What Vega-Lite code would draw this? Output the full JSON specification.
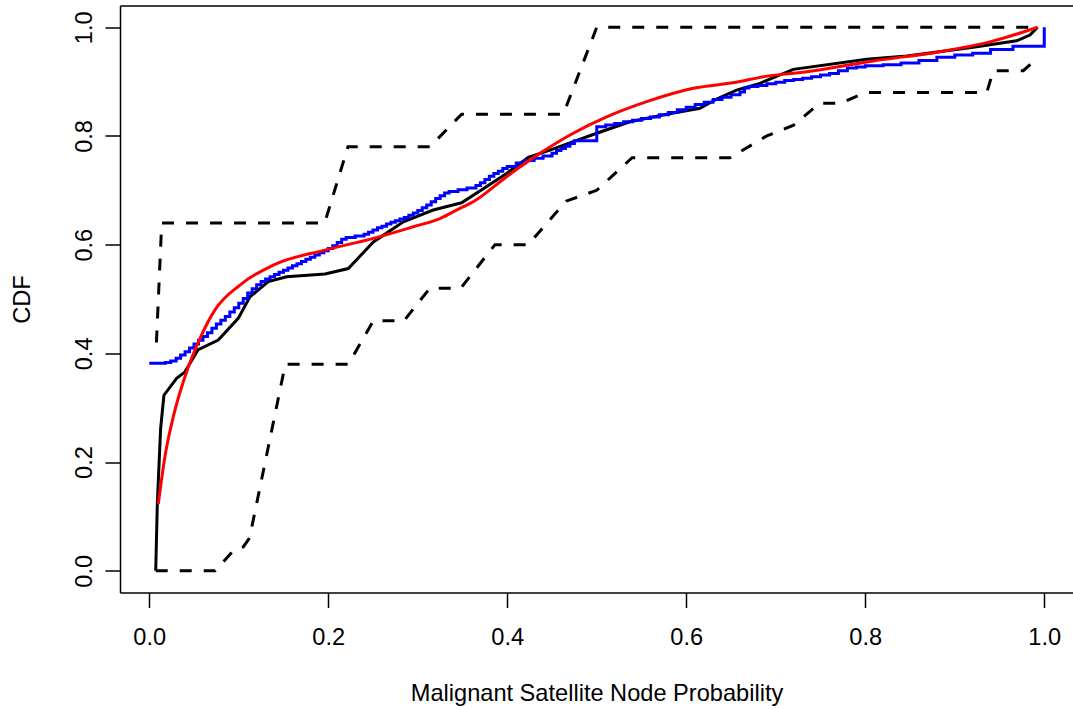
{
  "$schema": "https://vega.github.io/schema/vega-lite/v6.json",
  "autosize": {"type": "none"},
  "padding": {"left": 120, "top": 5.5, "right": 0, "bottom": 116.5},
  "width": 953,
  "height": 587,
  "background": "white",
  "config": {
    "view": {"stroke": null},
    "axis": {"grid": false, "labelFont": "Liberation Sans", "titleFont": "Liberation Sans", "labelColor": "black", "titleColor": "black", "domainColor": "black", "tickColor": "black", "domainWidth": 1.5, "tickWidth": 1.5}
  },
  "datasets": {
    "bands": [
      {"x": 0.008, "y": 0.42, "bound": "upper"},
      {"x": 0.0139, "y": 0.64, "bound": "upper"},
      {"x": 0.196, "y": 0.64, "bound": "upper"},
      {"x": 0.222, "y": 0.78, "bound": "upper"},
      {"x": 0.3136, "y": 0.78, "bound": "upper"},
      {"x": 0.349, "y": 0.84, "bound": "upper"},
      {"x": 0.4626, "y": 0.84, "bound": "upper"},
      {"x": 0.5, "y": 1.0, "bound": "upper"},
      {"x": 0.992, "y": 1.0, "bound": "upper"},
      {"x": 0.0072, "y": 0.0, "bound": "lower"},
      {"x": 0.0735, "y": 0.0, "bound": "lower"},
      {"x": 0.0957, "y": 0.04, "bound": "lower"},
      {"x": 0.105, "y": 0.044, "bound": "lower"},
      {"x": 0.112, "y": 0.06, "bound": "lower"},
      {"x": 0.152, "y": 0.38, "bound": "lower"},
      {"x": 0.2225, "y": 0.38, "bound": "lower"},
      {"x": 0.2504, "y": 0.46, "bound": "lower"},
      {"x": 0.2846, "y": 0.46, "bound": "lower"},
      {"x": 0.3136, "y": 0.52, "bound": "lower"},
      {"x": 0.348, "y": 0.52, "bound": "lower"},
      {"x": 0.3863, "y": 0.6, "bound": "lower"},
      {"x": 0.4235, "y": 0.6, "bound": "lower"},
      {"x": 0.4656, "y": 0.68, "bound": "lower"},
      {"x": 0.4999, "y": 0.7, "bound": "lower"},
      {"x": 0.5395, "y": 0.76, "bound": "lower"},
      {"x": 0.6489, "y": 0.76, "bound": "lower"},
      {"x": 0.69, "y": 0.8, "bound": "lower"},
      {"x": 0.72, "y": 0.82, "bound": "lower"},
      {"x": 0.749, "y": 0.86, "bound": "lower"},
      {"x": 0.772, "y": 0.86, "bound": "lower"},
      {"x": 0.8, "y": 0.88, "bound": "lower"},
      {"x": 0.9358, "y": 0.88, "bound": "lower"},
      {"x": 0.943, "y": 0.92, "bound": "lower"},
      {"x": 0.9766, "y": 0.92, "bound": "lower"},
      {"x": 0.99, "y": 0.94, "bound": "lower"}
    ],
    "black": [
      {"x": 0.0072, "y": 0.0}, {"x": 0.009, "y": 0.124}, {"x": 0.0127, "y": 0.262}, {"x": 0.0164, "y": 0.323},
      {"x": 0.0306, "y": 0.354}, {"x": 0.0399, "y": 0.366}, {"x": 0.0547, "y": 0.407}, {"x": 0.0771, "y": 0.4245},
      {"x": 0.0994, "y": 0.4644}, {"x": 0.1125, "y": 0.504}, {"x": 0.133, "y": 0.532}, {"x": 0.1535, "y": 0.541},
      {"x": 0.1963, "y": 0.546}, {"x": 0.2224, "y": 0.556}, {"x": 0.2504, "y": 0.605}, {"x": 0.2839, "y": 0.642},
      {"x": 0.3173, "y": 0.6637}, {"x": 0.349, "y": 0.677}, {"x": 0.3993, "y": 0.731}, {"x": 0.4235, "y": 0.7606},
      {"x": 0.4477, "y": 0.774}, {"x": 0.4999, "y": 0.805}, {"x": 0.537, "y": 0.826}, {"x": 0.578, "y": 0.84},
      {"x": 0.6153, "y": 0.851}, {"x": 0.634, "y": 0.868}, {"x": 0.6563, "y": 0.8844}, {"x": 0.6823, "y": 0.8968},
      {"x": 0.7196, "y": 0.9225}, {"x": 0.8016, "y": 0.941}, {"x": 0.8463, "y": 0.947}, {"x": 0.9207, "y": 0.963},
      {"x": 0.9691, "y": 0.975}, {"x": 0.984, "y": 0.9857}, {"x": 0.9926, "y": 1.0}
    ],
    "blue": [
      {"x": 0.0, "y": 0.382}, {"x": 0.018, "y": 0.383}, {"x": 0.024, "y": 0.386}, {"x": 0.03, "y": 0.391},
      {"x": 0.035, "y": 0.397}, {"x": 0.04, "y": 0.403}, {"x": 0.045, "y": 0.41}, {"x": 0.05, "y": 0.417},
      {"x": 0.055, "y": 0.424}, {"x": 0.06, "y": 0.431}, {"x": 0.065, "y": 0.438}, {"x": 0.07, "y": 0.446},
      {"x": 0.075, "y": 0.454}, {"x": 0.08, "y": 0.461}, {"x": 0.085, "y": 0.468}, {"x": 0.09, "y": 0.476},
      {"x": 0.095, "y": 0.484}, {"x": 0.1, "y": 0.492}, {"x": 0.105, "y": 0.501}, {"x": 0.11, "y": 0.511},
      {"x": 0.115, "y": 0.519}, {"x": 0.12, "y": 0.526}, {"x": 0.125, "y": 0.532}, {"x": 0.13, "y": 0.537},
      {"x": 0.135, "y": 0.541}, {"x": 0.14, "y": 0.545}, {"x": 0.145, "y": 0.549}, {"x": 0.15, "y": 0.553},
      {"x": 0.155, "y": 0.557}, {"x": 0.16, "y": 0.561}, {"x": 0.165, "y": 0.565}, {"x": 0.17, "y": 0.569},
      {"x": 0.175, "y": 0.573}, {"x": 0.18, "y": 0.577}, {"x": 0.185, "y": 0.581}, {"x": 0.19, "y": 0.585},
      {"x": 0.195, "y": 0.589}, {"x": 0.2, "y": 0.593}, {"x": 0.205, "y": 0.598}, {"x": 0.21, "y": 0.604},
      {"x": 0.215, "y": 0.61}, {"x": 0.22, "y": 0.613}, {"x": 0.23, "y": 0.616}, {"x": 0.24, "y": 0.619},
      {"x": 0.245, "y": 0.623}, {"x": 0.25, "y": 0.627}, {"x": 0.255, "y": 0.631}, {"x": 0.26, "y": 0.634},
      {"x": 0.265, "y": 0.638}, {"x": 0.27, "y": 0.641}, {"x": 0.275, "y": 0.644}, {"x": 0.28, "y": 0.647},
      {"x": 0.285, "y": 0.65}, {"x": 0.29, "y": 0.654}, {"x": 0.295, "y": 0.658}, {"x": 0.3, "y": 0.663},
      {"x": 0.305, "y": 0.668}, {"x": 0.31, "y": 0.673}, {"x": 0.315, "y": 0.679}, {"x": 0.32, "y": 0.685},
      {"x": 0.325, "y": 0.69}, {"x": 0.33, "y": 0.695}, {"x": 0.335, "y": 0.698}, {"x": 0.345, "y": 0.701},
      {"x": 0.355, "y": 0.704}, {"x": 0.365, "y": 0.709}, {"x": 0.37, "y": 0.714}, {"x": 0.375, "y": 0.72},
      {"x": 0.38, "y": 0.726}, {"x": 0.385, "y": 0.731}, {"x": 0.39, "y": 0.735}, {"x": 0.395, "y": 0.74},
      {"x": 0.4, "y": 0.744}, {"x": 0.41, "y": 0.75}, {"x": 0.42, "y": 0.755}, {"x": 0.43, "y": 0.759},
      {"x": 0.44, "y": 0.763}, {"x": 0.45, "y": 0.768}, {"x": 0.455, "y": 0.773}, {"x": 0.46, "y": 0.777},
      {"x": 0.465, "y": 0.781}, {"x": 0.47, "y": 0.786}, {"x": 0.475, "y": 0.791}, {"x": 0.5, "y": 0.817},
      {"x": 0.51, "y": 0.82}, {"x": 0.52, "y": 0.823}, {"x": 0.53, "y": 0.826}, {"x": 0.54, "y": 0.829},
      {"x": 0.55, "y": 0.832}, {"x": 0.56, "y": 0.835}, {"x": 0.57, "y": 0.839}, {"x": 0.58, "y": 0.843},
      {"x": 0.59, "y": 0.848}, {"x": 0.6, "y": 0.853}, {"x": 0.61, "y": 0.858}, {"x": 0.62, "y": 0.862},
      {"x": 0.63, "y": 0.867}, {"x": 0.64, "y": 0.871}, {"x": 0.65, "y": 0.876}, {"x": 0.66, "y": 0.881},
      {"x": 0.665, "y": 0.888}, {"x": 0.67, "y": 0.891}, {"x": 0.68, "y": 0.893}, {"x": 0.69, "y": 0.896},
      {"x": 0.7, "y": 0.899}, {"x": 0.71, "y": 0.902}, {"x": 0.72, "y": 0.904}, {"x": 0.73, "y": 0.906},
      {"x": 0.74, "y": 0.909}, {"x": 0.75, "y": 0.912}, {"x": 0.76, "y": 0.915}, {"x": 0.77, "y": 0.92},
      {"x": 0.78, "y": 0.925}, {"x": 0.79, "y": 0.927}, {"x": 0.8, "y": 0.929}, {"x": 0.82, "y": 0.931},
      {"x": 0.84, "y": 0.934}, {"x": 0.86, "y": 0.939}, {"x": 0.88, "y": 0.945}, {"x": 0.9, "y": 0.949},
      {"x": 0.92, "y": 0.952}, {"x": 0.94, "y": 0.959}, {"x": 0.965, "y": 0.965}, {"x": 1.0, "y": 1.0}
    ],
    "red": [
      {"x": 0.0101, "y": 0.123}, {"x": 0.0175, "y": 0.21}, {"x": 0.0268, "y": 0.283}, {"x": 0.0399, "y": 0.357},
      {"x": 0.0567, "y": 0.4276}, {"x": 0.0734, "y": 0.48}, {"x": 0.1013, "y": 0.5257}, {"x": 0.1386, "y": 0.5625},
      {"x": 0.1963, "y": 0.59}, {"x": 0.2504, "y": 0.6116}, {"x": 0.2951, "y": 0.633}, {"x": 0.3248, "y": 0.648},
      {"x": 0.3471, "y": 0.6668}, {"x": 0.362, "y": 0.679}, {"x": 0.3993, "y": 0.725}, {"x": 0.4365, "y": 0.768},
      {"x": 0.4737, "y": 0.805}, {"x": 0.511, "y": 0.835}, {"x": 0.5558, "y": 0.863}, {"x": 0.6078, "y": 0.8876},
      {"x": 0.66, "y": 0.9}, {"x": 0.6823, "y": 0.9078}, {"x": 0.7345, "y": 0.918}, {"x": 0.809, "y": 0.938},
      {"x": 0.8835, "y": 0.955}, {"x": 0.9393, "y": 0.973}, {"x": 0.9926, "y": 1.0}
    ]
  },
  "encoding": {
    "y": {
      "field": "y", "type": "quantitative",
      "scale": {"domain": [-0.04, 1.04], "nice": false, "zero": false},
      "axis": {
        "orient": "left", "values": [0, 0.2, 0.4, 0.6, 0.8, 1.0], "format": ".1f",
        "tickSize": 15, "labelFontSize": 23.6, "labelAngle": -90, "labelAlign": "center",
        "labelBaseline": "alphabetic", "labelPadding": 14, "labelFlush": false, "labelOverlap": false,
        "title": "CDF", "titleFontSize": 23.6, "titleFontWeight": "normal", "titleAngle": -90,
        "titleBaseline": "alphabetic", "titleX": -91, "titleAlign": "center"
      }
    }
  },
  "layer": [
    {
      "encoding": {
        "x": {
          "field": "x", "type": "quantitative",
          "scale": {"domain": [-0.0327, 1.0321], "nice": false, "zero": false},
          "axis": {
            "orient": "bottom", "values": [0, 0.2, 0.4, 0.6, 0.8, 1.0], "format": ".1f",
            "tickSize": 15, "labelFontSize": 23.6, "labelBaseline": "alphabetic", "labelPadding": 37,
            "labelFlush": false, "labelOverlap": false,
            "title": "Malignant Satellite Node Probability", "titleFontSize": 23.6, "titleFontWeight": "normal",
            "titleBaseline": "alphabetic", "titleY": 108
          }
        }
      },
      "layer": [
        {
          "data": {"name": "bands"},
          "mark": {"type": "line", "color": "black", "strokeWidth": 3, "strokeDash": [12, 12], "strokeCap": "butt"},
          "encoding": {"detail": {"field": "bound", "type": "nominal"}}
        },
        {
          "data": {"name": "black"},
          "mark": {"type": "line", "color": "black", "strokeWidth": 3},
          "encoding": {}
        },
        {
          "data": {"name": "blue"},
          "mark": {"type": "line", "color": "#0000FF", "strokeWidth": 3, "interpolate": "step-after"},
          "encoding": {}
        }
      ]
    },
    {
      "data": {"name": "red"},
      "mark": {"type": "line", "color": "#FF0000", "strokeWidth": 3, "interpolate": "monotone"},
      "encoding": {
        "x": {
          "field": "x", "type": "quantitative",
          "scale": {"domain": [-0.0327, 1.0321], "nice": false, "zero": false},
          "axis": {"orient": "top", "labels": false, "ticks": false, "domain": true, "title": null}
        }
      }
    }
  ],
  "resolve": {"scale": {"x": "independent"}, "axis": {"x": "independent"}}
}
